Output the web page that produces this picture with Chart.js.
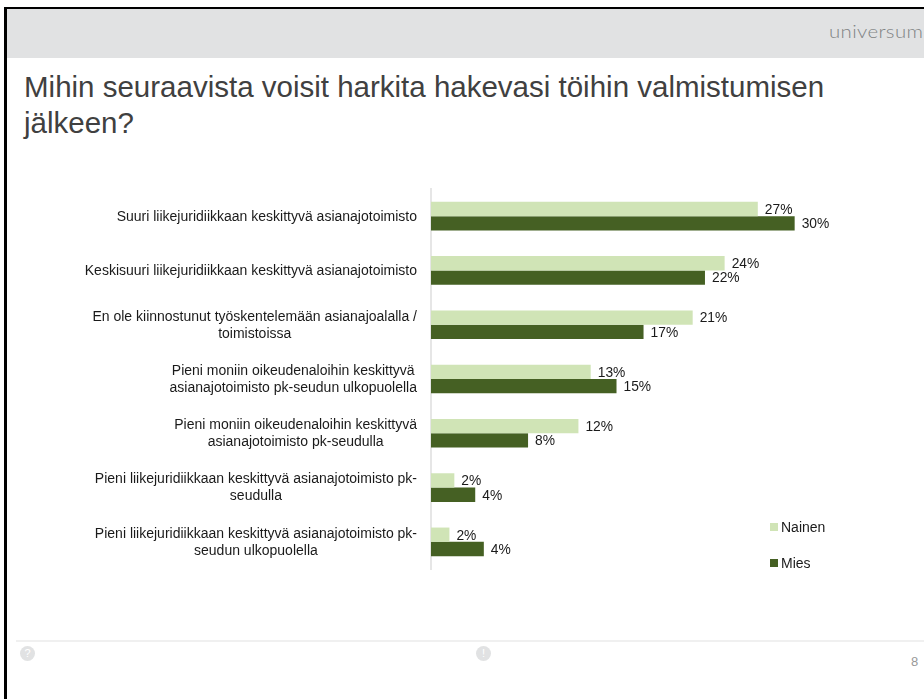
<!DOCTYPE html>
<html lang="fi">
<head>
  <meta charset="UTF-8" />
  <title>Mihin seuraavista voisit harkita hakevasi töihin valmistumisen jälkeen?</title>
  <script src="https://cdn.jsdelivr.net/npm/chart.js"></script>
  <style>
    html, body { margin: 0; padding: 0; background: #fff; overflow: hidden; }
    body { width: 924px; height: 699px; position: relative; font-family: "Liberation Sans", Arial, sans-serif; }
    .abs { position: absolute; }
    #frameTop { left: 4px; top: 7px; width: 920px; height: 2px; background: #000; }
    #frameLeft { left: 4px; top: 7px; width: 3px; height: 692px; background: #000; }
    #header { left: 7px; top: 9px; width: 917px; height: 49px; background: #e1e2e3; }
    #brand { left: 829px; top: 21px; font: 300 17px Lato, sans-serif; letter-spacing: 0.3px; color: #808284; white-space: nowrap; transform: scaleX(1.2); transform-origin: left top; }
    #title { left: 24px; top: 69px; font-size: 29.5px; line-height: 36px; color: #404040; white-space: nowrap; }
    #footLine { left: 16px; top: 640px; width: 908px; height: 2px; background: #f0f0f0; }
    .icon { width: 15px; height: 15px; top: 646px; border-radius: 50%; background: #e1e2e3; color: #fff; font-size: 11px; line-height: 15px; text-align: center; }
    #page { left: 911px; top: 654px; font-size: 13px; color: #999; }
    #chartBox { left: 0; top: 0; width: 924px; height: 699px; }
    .leg { position: absolute; left: 770px; font-size: 14px; line-height: 16px; color: #1a1a1a; padding-left: 11px; }
    .leg i { position: absolute; left: 0; top: 4px; width: 8px; height: 8px; }
  </style>
</head>
<body>
  <div class="abs" id="frameTop"></div>
  <div class="abs" id="frameLeft"></div>
  <div class="abs" id="header"></div>
  <div class="abs" id="brand">universum</div>
  <div class="abs" id="title">Mihin seuraavista voisit harkita hakevasi töihin valmistumisen<br>jälkeen?</div>
  <div class="abs" id="footLine"></div>
  <div class="abs icon" style="left:20px">?</div>
  <div class="abs icon" style="left:476px">!</div>
  <div class="abs" id="page">8</div>
  <div class="abs" id="chartBox"><canvas id="chart" width="924" height="699"></canvas></div>
  <div id="legend"></div>

  <script>
    const categories = [
      ["Suuri liikejuridiikkaan keskittyvä asianajotoimisto"],
      ["Keskisuuri liikejuridiikkaan keskittyvä asianajotoimisto"],
      ["En ole kiinnostunut työskentelemään asianajoalalla /", "toimistoissa"],
      ["Pieni moniin oikeudenaloihin keskittyvä", "asianajotoimisto pk-seudun ulkopuolella"],
      ["Pieni moniin oikeudenaloihin keskittyvä", "asianajotoimisto pk-seudulla"],
      ["Pieni liikejuridiikkaan keskittyvä asianajotoimisto pk-", "seudulla"],
      ["Pieni liikejuridiikkaan keskittyvä asianajotoimisto pk-", "seudun ulkopuolella"]
    ];
    const nainen = [26.6, 23.9, 21.3, 13.0, 12.0, 1.9, 1.5];
    const mies = [29.6, 22.3, 17.3, 15.1, 7.9, 3.6, 4.3];
    const seriesNames = ["Nainen", "Mies"];
    const seriesColors = ["#d0e4b6", "#456023"];

    const labelFont = '14px "Liberation Sans", Arial, sans-serif';
    const valueFont = '13.8px "Liberation Sans", Arial, sans-serif';

    // arvot palkkien perään ja kategoriat keskitettynä omaan lohkoonsa
    const textPlugin = {
      id: "textPlugin",
      afterDatasetsDraw(chart) {
        const c = chart.ctx;
        const y = chart.scales.y;
        c.save();
        c.fillStyle = "#1a1a1a";
        c.textBaseline = "middle";

        c.font = valueFont;
        c.textAlign = "left";
        chart.data.datasets.forEach((ds, d) => {
          chart.getDatasetMeta(d).data.forEach((bar, i) => {
            c.fillText(Math.round(ds.data[i]) + "%", bar.x + 7, bar.y + 1);
          });
        });

        c.font = labelFont;
        c.textAlign = "center";
        const right = 417;
        categories.forEach((lines, i) => {
          const w = Math.max(...lines.map(l => c.measureText(l).width));
          const py = y.getPixelForValue(i) + 0.5;
          lines.forEach((l, n) => {
            c.fillText(l, right - w / 2, py + (n - (lines.length - 1) / 2) * 17);
          });
        });
        c.restore();
      }
    };

    new Chart(document.getElementById("chart").getContext("2d"), {
      type: "bar",
      data: {
        labels: categories,
        datasets: [
          { label: seriesNames[0], data: nainen, backgroundColor: seriesColors[0] },
          { label: seriesNames[1], data: mies, backgroundColor: seriesColors[1] }
        ]
      },
      options: {
        indexAxis: "y",
        responsive: false,
        animation: false,
        categoryPercentage: 0.527,
        barPercentage: 1,
        layout: { padding: { top: 189, bottom: 130, right: 63, left: 0 } },
        plugins: { legend: { display: false }, tooltip: { enabled: false } },
        scales: {
          x: { min: 0, max: 35, display: false },
          y: {
            afterFit(s) { s.width = 431; },
            grid: { display: false },
            border: { color: "#e6e6e6", width: 2 },
            ticks: { display: false }
          }
        }
      },
      plugins: [textPlugin]
    });

    const legendTops = [519, 555];
    document.getElementById("legend").innerHTML = seriesNames.map((n, i) =>
      `<div class="leg" style="top:${legendTops[i]}px"><i style="background:${seriesColors[i]}"></i>${n}</div>`
    ).join("");
  </script>
</body>
</html>
